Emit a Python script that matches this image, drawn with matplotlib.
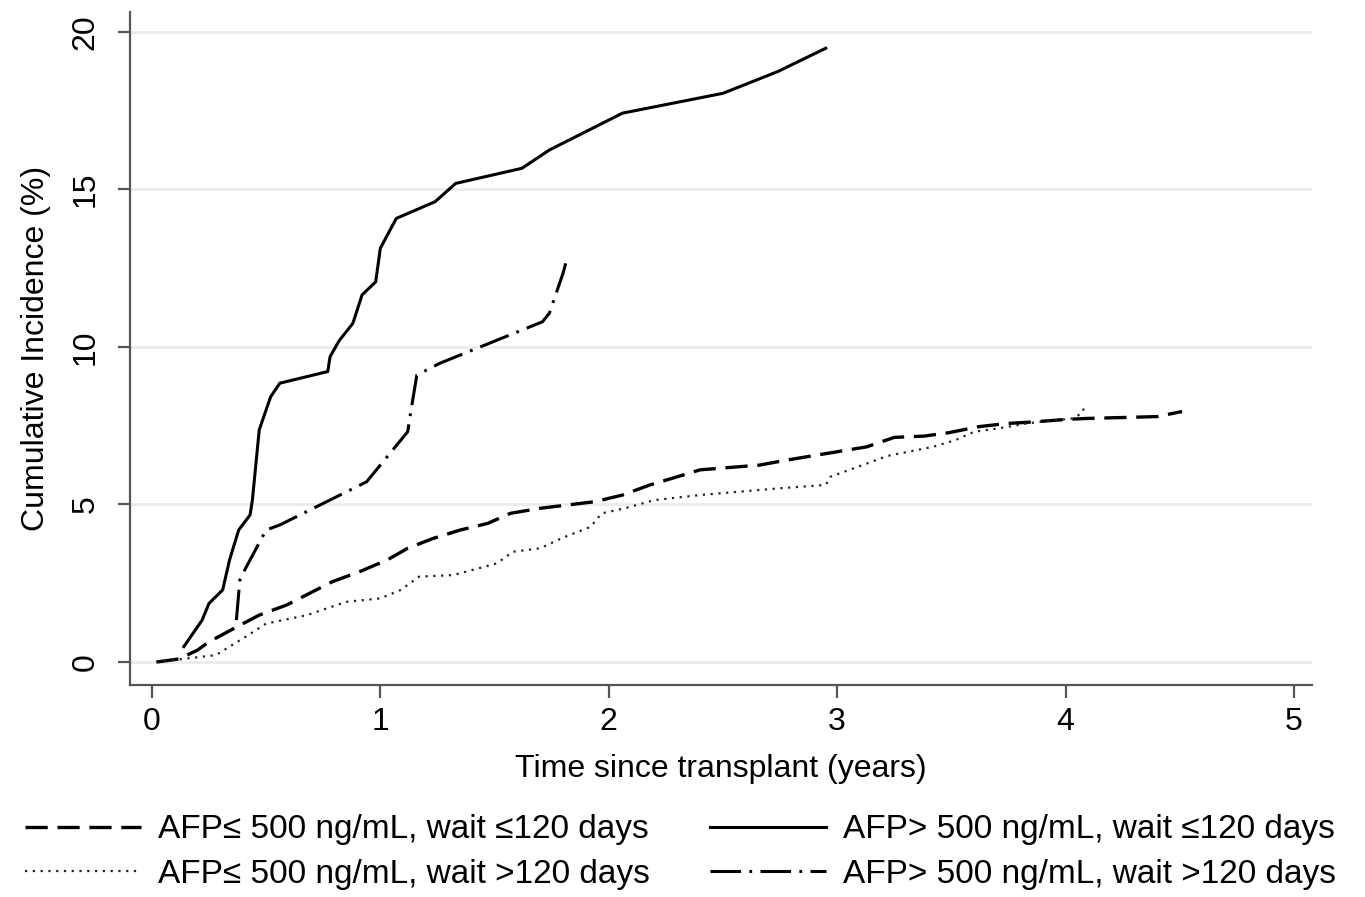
import matplotlib
matplotlib.use("Agg")
import matplotlib.pyplot as plt

plt.rcParams['font.family'] = ['Liberation Sans', 'DejaVu Sans']
plt.rcParams['lines.scale_dashes'] = False

# AFP <= 500, wait <= 120 days (dashed)
lowShortT = [0.02, 0.12, 0.2, 0.25, 0.36, 0.47, 0.59, 0.69, 0.79, 0.91, 1.03, 1.12, 1.23,
             1.35, 1.47, 1.57, 1.7, 1.94, 2.06, 2.18, 2.3, 2.4, 2.66, 2.78, 3.13, 3.25,
             3.38, 3.49, 3.62, 3.74, 3.86, 4.0, 4.09, 4.4, 4.51]
lowShortV = [0.0, 0.1, 0.38, 0.64, 1.07, 1.49, 1.81, 2.18, 2.55, 2.87, 3.24, 3.61, 3.92,
             4.19, 4.4, 4.72, 4.88, 5.09, 5.3, 5.62, 5.88, 6.1, 6.25, 6.41, 6.83, 7.13,
             7.17, 7.28, 7.47, 7.57, 7.62, 7.7, 7.73, 7.79, 7.95]

# AFP <= 500, wait > 120 days (dotted)
lowLongT = [0.02, 0.28, 0.41, 0.5, 0.68, 0.85, 1.0, 1.09, 1.17, 1.32, 1.51, 1.58, 1.7,
            1.8, 1.92, 1.97, 2.07, 2.2, 2.4, 2.74, 2.95, 2.97, 3.13, 3.22, 3.35, 3.42,
            3.52, 3.6, 3.71, 3.83, 3.93, 4.03, 4.07, 4.09]
lowLongV = [0.0, 0.22, 0.8, 1.22, 1.49, 1.91, 2.02, 2.29, 2.71, 2.76, 3.13, 3.5, 3.61,
            3.95, 4.29, 4.72, 4.88, 5.14, 5.3, 5.51, 5.62, 5.88, 6.3, 6.54, 6.73, 6.83,
            7.05, 7.31, 7.42, 7.57, 7.66, 7.73, 7.89, 8.2]

# AFP > 500, wait <= 120 days (solid)
highShortT = [0.14, 0.22, 0.25, 0.31, 0.34, 0.38, 0.43, 0.44, 0.47, 0.52, 0.56, 0.77,
              0.78, 0.82, 0.88, 0.92, 0.98, 1.0, 1.07, 1.24, 1.33, 1.62, 1.74, 2.06,
              2.5, 2.74, 2.95]
highShortV = [0.49, 1.33, 1.86, 2.29, 3.24, 4.19, 4.67, 5.14, 7.37, 8.42, 8.85, 9.22,
              9.69, 10.2, 10.75, 11.65, 12.07, 13.13, 14.08, 14.61, 15.19, 15.67, 16.25,
              17.42, 18.05, 18.74, 19.48]

# AFP > 500, wait > 120 days (dash-dot)
highLongT = [0.37, 0.385, 0.41, 0.5, 0.56, 0.94, 1.12, 1.13, 1.16, 1.26, 1.71, 1.74, 1.8, 1.82]
highLongV = [1.33, 2.6, 2.97, 4.19, 4.35, 5.72, 7.31, 7.79, 9.11, 9.48, 10.8, 11.07, 12.34, 12.87]

labels = ["AFP\u2264 500 ng/mL, wait \u2264120 days",
          "AFP\u2264 500 ng/mL, wait >120 days",
          "AFP> 500 ng/mL, wait \u2264120 days",
          "AFP> 500 ng/mL, wait >120 days"]

FS = 23

fig = plt.figure(figsize=(13.65, 8.97), dpi=100)
ax = fig.add_axes([0.0952, 0.2363, 0.866, 0.7503])

l1, = ax.plot(lowShortT, lowShortV, color='black', lw=2.4, dashes=(16, 7))
l2, = ax.plot(lowLongT, lowLongV, color='#222222', lw=1.6, dashes=(1.6, 4))
l3, = ax.plot(highShortT, highShortV, color='black', lw=2.2)
l4, = ax.plot(highLongT, highLongV, color='black', lw=2.2, dashes=(22, 6, 2, 6))

ax.set_xlim(-0.096, 5.079)
ax.set_ylim(-0.73, 20.63)
ax.set_xticks([0, 1, 2, 3, 4, 5])
ax.set_yticks([0, 5, 10, 15, 20])
ax.grid(axis='y', color='#ebebeb', lw=2)
ax.set_axisbelow(True)
for s in ['top', 'right']:
    ax.spines[s].set_visible(False)
for s in ['left', 'bottom']:
    ax.spines[s].set_color('#555555')
    ax.spines[s].set_linewidth(1.6)
ax.tick_params(axis='both', length=9, width=1.6, color='#555555', labelsize=FS)
ax.tick_params(axis='x', pad=7)
ax.tick_params(axis='y', pad=12)
plt.setp(ax.get_yticklabels(), rotation=90, va='center')
ax.set_xlabel("Time since transplant (years)", fontsize=FS, labelpad=12)
ax.set_ylabel("Cumulative Incidence (%)", fontsize=FS, labelpad=14)

fig.legend([l1, l2, l3, l4], labels, ncol=2, loc='center left',
           bbox_to_anchor=(0.018, 0.05), frameon=False, fontsize=24,
           borderpad=0, borderaxespad=0,
           handlelength=3.5, handletextpad=0.5, columnspacing=1.8, labelspacing=0.4)

fig.savefig("out.png", dpi=100)
